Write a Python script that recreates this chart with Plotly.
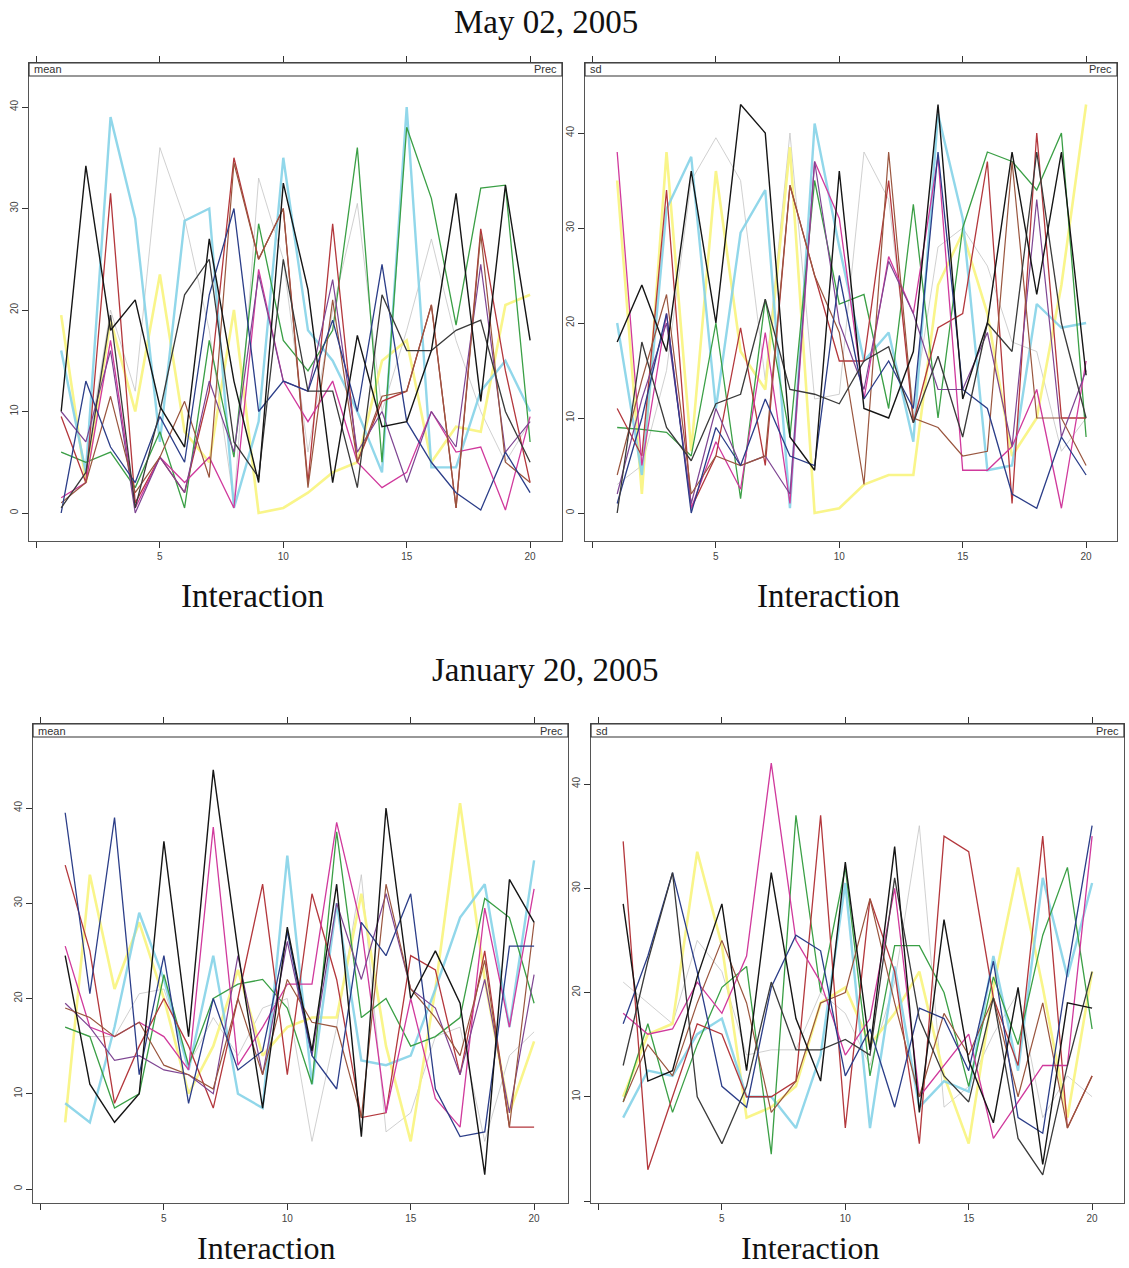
import plotly.graph_objects as go

W, H = 1129, 1268

interaction = list(range(1, 21))
x_tickvals = [0, 5, 10, 15, 20]
x_ticktext = ["", "5", "10", "15", "20"]
y_tickvals = [0, 10, 20, 30, 40]

# ---- May 02, 2005 : mean ----
may_mean_lightgray = [6, 5, 20, 12, 36, 29, 18, 1, 33, 25, 6, 20, 30.5, 10, 18, 27, 17, 10, 5, 9]
may_mean_yellow = [19.5, 3, 19, 10, 23.5, 8, 5, 20, 0, 0.5, 2, 4, 5, 15, 17, 5, 8.5, 8, 20.5, 21.5]
may_mean_cyan = [16, 4, 39, 29, 7, 28.8, 30, 0.5, 9, 35, 18, 15, 10, 4, 40, 4.5, 4.5, 12, 15, 10]
may_mean_green = [6, 5, 6, 2.5, 8, 0.5, 17, 5.5, 28.5, 17, 14, 18, 36, 5, 38, 31, 18.5, 32, 32.3, 7]
may_mean_darkred = [9.5, 3, 31.5, 1, 5.5, 2, 12, 35, 25, 30, 3, 28.5, 5, 11, 12, 20.5, 0.5, 28, 14, 3]
may_mean_magenta = [1.5, 3, 17, 0.5, 5.5, 3, 5.5, 0.5, 24, 13, 9, 13, 5, 2.5, 4, 10, 6, 6.5, 0.3, 9.5]
may_mean_purple = [10, 7, 16, 0, 5.5, 2, 13, 6, 23.5, 13, 12, 23, 6, 10, 3, 10, 6.5, 24.5, 6, 9]
may_mean_brown = [1, 3, 11.5, 2, 5.5, 11, 3.5, 34.5, 25, 30, 2.5, 21, 5, 11.5, 12, 20.5, 0.5, 27.5, 5, 3]
may_mean_navy = [0, 13, 6.5, 3, 9.5, 5, 21.5, 30, 10, 13, 12, 19, 10, 24.5, 9, 5, 2, 0.3, 6, 2]
may_mean_black2 = [0.5, 4, 19.5, 0.5, 10, 21.5, 25, 7, 3.5, 25, 12, 12, 2.5, 21.5, 16, 16, 18, 19, 10, 5]
may_mean_black1 = [10, 34.2, 18, 21, 10.5, 6.5, 27, 13, 3, 32.5, 22, 3, 17.5, 8.5, 9, 16, 31.5, 11, 32.3, 17]

# ---- May 02, 2005 : sd ----
may_sd_lightgray = [3, 5, 15, 35, 39.5, 35, 14, 40, 12, 12.5, 38, 33, 11, 28, 30, 26, 18, 17, 6.5, 10]
may_sd_yellow = [35, 2, 38, 6.5, 36, 17, 13, 38.5, 0, 0.5, 3, 4, 4, 24, 29.5, 21, 6, 10, 24, 43]
may_sd_cyan = [20, 4, 32, 37.5, 11, 29.5, 34, 0.5, 41, 28, 16, 19, 7.5, 42, 31, 4.5, 5, 22, 19.5, 20]
may_sd_green = [9, 8.8, 8.5, 6, 20, 1.5, 22.5, 8, 35, 22, 23, 11, 32.5, 10, 30, 38, 37, 34, 40, 8]
may_sd_darkred = [11, 6, 34, 0.5, 6, 19.5, 5, 34.5, 25, 16, 16, 35, 9.5, 19.5, 21, 37, 1, 40, 10, 10]
may_sd_magenta = [38, 5, 21, 0.5, 7.5, 2.5, 19, 1, 37, 31, 12, 27, 21, 37.5, 4.5, 4.5, 7, 13, 0.5, 16]
may_sd_purple = [2, 12, 20, 1, 11, 5, 6, 2, 37, 20, 13, 26.5, 21, 13, 13, 19, 7, 33, 8, 15]
may_sd_brown = [4, 14, 23, 2, 6, 5, 6, 34.5, 25, 19, 3, 38, 10, 9, 6, 6.5, 37, 10, 10, 5]
may_sd_navy = [1, 10, 21, 0, 9, 5, 12, 6, 5, 25, 12, 16, 11, 38, 13, 11, 2, 0.5, 8, 4]
may_sd_black2 = [0, 18, 9, 5.5, 11.5, 12.5, 22.5, 13, 12.5, 11.5, 16, 17.5, 9.5, 16.5, 8, 20, 17, 38, 20, 10]
may_sd_black1 = [18, 24, 17, 36, 20, 43, 40, 8, 4.5, 36, 11, 10, 17, 43, 12, 20, 38, 23, 38, 14.5]

# ---- January 20, 2005 : mean ----
jan_mean_lightgray = [17, 16, 16, 20.5, 21, 13, 18, 14, 19, 20, 5, 17, 33, 6, 8, 16, 17, 5, 14, 16.5]
jan_mean_yellow = [7, 33, 21, 28, 20, 10, 15, 23, 14, 17, 18, 18, 31, 15, 5, 21, 40.5, 22, 8, 15.5]
jan_mean_cyan = [9, 7, 17, 29, 22, 12.5, 24.5, 10, 8.5, 35, 11, 30, 13.5, 13, 14, 21, 28.5, 32, 17, 34.5]
jan_mean_green = [17, 16, 8.5, 10, 22.5, 13, 20, 21.5, 22, 19, 11, 37.5, 18, 20, 15, 16, 18, 30.5, 28.5, 19.5]
jan_mean_darkred = [34, 25, 9, 15, 20, 15, 8.5, 20, 32, 12, 31, 22, 7.5, 8, 24.5, 23, 12, 25, 6.5, 6.5]
jan_mean_magenta = [25.5, 17, 16, 17.5, 16, 12.5, 38, 13, 17, 21.5, 21.5, 38.5, 27.5, 8, 20, 9.5, 6.5, 29.5, 17, 31.5]
jan_mean_purple = [19.5, 17, 13.5, 14, 12.5, 12, 10, 24.5, 12, 26, 14, 30, 22, 31, 21, 19, 12, 22, 8, 22.5]
jan_mean_brown = [19, 18, 16, 17.5, 13, 12, 10.5, 20, 12, 22, 17.5, 17, 7.5, 32, 21, 18, 14, 24, 6.5, 28]
jan_mean_navy = [39.5, 20.5, 39, 12, 24.5, 9, 20, 12.5, 14.5, 27, 14, 10.5, 28, 24.5, 31, 10.5, 5.5, 6, 25.5, 25.5]
jan_mean_black1 = [24.5, 11, 7, 10, 36.5, 16, 44, 25, 8.5, 27.5, 14.5, 32, 5.5, 40, 20, 25, 19.5, 1.5, 32.5, 28]

# ---- January 20, 2005 : sd ----
jan_sd_lightgray = [21, 19, 17, 25, 22, 14, 14.5, 14.5, 20, 18, 13, 21, 36, 9, 11, 16, 20, 8, 12, 10]
jan_sd_yellow = [10, 16, 17, 33.5, 24.5, 8, 9, 11, 19, 20.5, 15, 18, 22, 12, 5.5, 20.5, 32, 20.5, 8, 22]
jan_sd_cyan = [8, 12.5, 12, 16, 17.5, 10, 10, 7, 14, 30.5, 7, 22.5, 9, 11.5, 10.5, 23.5, 12.5, 31, 21.5, 30.5]
jan_sd_green = [9.5, 17, 8.5, 15, 20.5, 22.5, 4.5, 37, 20, 32, 12, 24.5, 24.5, 20, 11, 21.5, 15, 25.5, 32, 16.5]
jan_sd_darkred = [34.5, 3, 10, 17, 16, 10, 10, 11.5, 37, 7, 29, 22, 5.5, 35, 33.5, 19.5, 13, 35, 7, 12]
jan_sd_magenta = [18, 16, 16.5, 21, 18, 23.5, 42, 25, 21, 14, 17.5, 30, 10, 13, 16, 6, 9.5, 13, 13, 35]
jan_sd_brown = [9.5, 15, 12, 19, 25, 19, 8.5, 11.5, 19, 20, 29, 19, 10, 18, 14, 19.5, 10, 19, 7, 12]
jan_sd_navy = [17, 23.5, 31.5, 22, 11, 9, 20.5, 25.5, 24, 12, 16.5, 9, 18.5, 17.5, 12.5, 23, 8, 6.5, 22, 36]
jan_sd_black2 = [13, 23, 31.5, 10, 5.5, 11, 21, 14.5, 14.5, 15.5, 14, 31, 17.5, 12, 9.5, 19.5, 6, 2.5, 13, 22]
jan_sd_black1 = [28.5, 11.5, 12.5, 21.5, 28.5, 12.5, 31.5, 17.5, 11.5, 32.5, 14.5, 34, 8.5, 27, 13.5, 7.5, 20.5, 3.5, 19, 18.5]

# ---- styles ----
STYLE = {
    "lightgray": ("#c4c4c4", 0.8),
    "yellow": ("#f9f57e", 2.6),
    "cyan": ("#86d3e8", 2.4),
    "green": ("#3a9f45", 1.3),
    "darkred": ("#b3373c", 1.3),
    "magenta": ("#d0399c", 1.3),
    "purple": ("#7e4592", 1.2),
    "brown": ("#99553e", 1.2),
    "navy": ("#2b3d88", 1.3),
    "black2": ("#3a3a3a", 1.3),
    "black1": ("#151515", 1.4),
}

panels = [
    {"series": {"lightgray": may_mean_lightgray, "yellow": may_mean_yellow, "cyan": may_mean_cyan,
                "green": may_mean_green, "darkred": may_mean_darkred, "magenta": may_mean_magenta,
                "purple": may_mean_purple, "brown": may_mean_brown, "navy": may_mean_navy,
                "black2": may_mean_black2, "black1": may_mean_black1},
     "label": "mean", "px": (29, 562), "py": (63, 541), "strip_bottom": 76,
     "y0px": 513, "yunit": 10.15, "ytext": ["0", "10", "20", "30", "40"]},
    {"series": {"lightgray": may_sd_lightgray, "yellow": may_sd_yellow, "cyan": may_sd_cyan,
                "green": may_sd_green, "darkred": may_sd_darkred, "magenta": may_sd_magenta,
                "purple": may_sd_purple, "brown": may_sd_brown, "navy": may_sd_navy,
                "black2": may_sd_black2, "black1": may_sd_black1},
     "label": "sd", "px": (585, 1117), "py": (63, 541), "strip_bottom": 76,
     "y0px": 513, "yunit": 9.5, "ytext": ["0", "10", "20", "30", "40"]},
    {"series": {"lightgray": jan_mean_lightgray, "yellow": jan_mean_yellow, "cyan": jan_mean_cyan,
                "green": jan_mean_green, "darkred": jan_mean_darkred, "magenta": jan_mean_magenta,
                "purple": jan_mean_purple, "brown": jan_mean_brown, "navy": jan_mean_navy,
                "black1": jan_mean_black1},
     "label": "mean", "px": (33, 568), "py": (724, 1203), "strip_bottom": 737,
     "y0px": 1189, "yunit": 9.525, "ytext": ["0", "10", "20", "30", "40"]},
    {"series": {"lightgray": jan_sd_lightgray, "yellow": jan_sd_yellow, "cyan": jan_sd_cyan,
                "green": jan_sd_green, "darkred": jan_sd_darkred, "magenta": jan_sd_magenta,
                "brown": jan_sd_brown, "navy": jan_sd_navy, "black2": jan_sd_black2,
                "black1": jan_sd_black1},
     "label": "sd", "px": (591, 1124), "py": (724, 1203), "strip_bottom": 737,
     "y0px": 1201, "yunit": 10.425, "ytext": ["", "10", "20", "30", "40"]},
]

XUNIT = 24.68

fig = go.Figure()
shapes = []
annotations = []
layout_axes = {}

for i, p in enumerate(panels):
    n = "" if i == 0 else str(i + 1)
    xa, ya = "x" + n, "y" + n
    x0px, x1px = p["px"]
    ytop, ybot = p["py"]
    xzero = x0px + 7.5
    xr = [(x0px - xzero) / XUNIT, (x1px - xzero) / XUNIT]
    yr = [(p["y0px"] - ybot) / p["yunit"], (p["y0px"] - ytop) / p["yunit"]]

    for name, vals in p["series"].items():
        col, wd = STYLE[name]
        fig.add_trace(go.Scatter(
            x=interaction, y=vals, mode="lines", xaxis=xa, yaxis=ya,
            line=dict(color=col, width=wd), showlegend=False, hoverinfo="skip",
            opacity=0.9 if name in ("yellow", "cyan") else 1.0))

    layout_axes["xaxis" + n] = dict(
        domain=[x0px / W, x1px / W], range=xr, anchor=ya,
        tickmode="array", tickvals=x_tickvals, ticktext=x_ticktext,
        ticks="outside", ticklen=6, tickwidth=1, tickcolor="#333",
        showline=True, linecolor="#555", linewidth=1.1, mirror="allticks",
        showgrid=False, zeroline=False,
        tickfont=dict(family="Liberation Sans, Arial", size=10, color="#444"))
    layout_axes["yaxis" + n] = dict(
        domain=[1 - ybot / H, 1 - ytop / H], range=yr, anchor=xa,
        tickmode="array", tickvals=y_tickvals, ticktext=p["ytext"],
        ticks="outside", ticklen=6, tickwidth=1, tickcolor="#333", tickangle=-90,
        showline=True, linecolor="#555", linewidth=1.1, mirror=True,
        showgrid=False, zeroline=False,
        tickfont=dict(family="Liberation Sans, Arial", size=10, color="#444"))

    shapes.append(dict(type="rect", xref="paper", yref="paper",
                       x0=x0px / W, x1=x1px / W, y0=1 - p["strip_bottom"] / H, y1=1 - ytop / H,
                       fillcolor="white", line=dict(color="#333", width=1.2), layer="above"))
    mid_y = 1 - (ytop + p["strip_bottom"]) / 2 / H
    annotations.append(dict(text=p["label"], xref="paper", yref="paper",
                            x=(x0px + 3) / W, y=mid_y, xanchor="left", yanchor="middle",
                            showarrow=False, font=dict(family="Liberation Sans, Arial", size=11, color="#333")))
    annotations.append(dict(text="Prec", xref="paper", yref="paper",
                            x=(x1px - 3) / W, y=mid_y, xanchor="right", yanchor="middle",
                            showarrow=False, font=dict(family="Liberation Sans, Arial", size=11, color="#333")))

serif = "Liberation Serif, Times New Roman, serif"
for text, xc, yc, size in [("May 02, 2005", 546, 22, 33), ("Interaction", 253, 596, 33),
                           ("Interaction", 828, 596, 33), ("January 20, 2005", 545, 670, 33),
                           ("Interaction", 266, 1248, 32), ("Interaction", 810, 1248, 32)]:
    annotations.append(dict(text=text, xref="paper", yref="paper", x=xc / W, y=1 - yc / H,
                            xanchor="center", yanchor="middle", showarrow=False,
                            font=dict(family=serif, size=size, color="#111")))

fig.update_layout(
    width=W, height=H, autosize=False,
    margin=dict(l=0, r=0, t=0, b=0),
    paper_bgcolor="white", plot_bgcolor="white",
    shapes=shapes, annotations=annotations,
    **layout_axes)

fig.write_html("out.html", config={"displayModeBar": False},
               post_script="document.body.style.margin='0';document.body.style.padding='0';document.body.style.overflow='hidden';")
